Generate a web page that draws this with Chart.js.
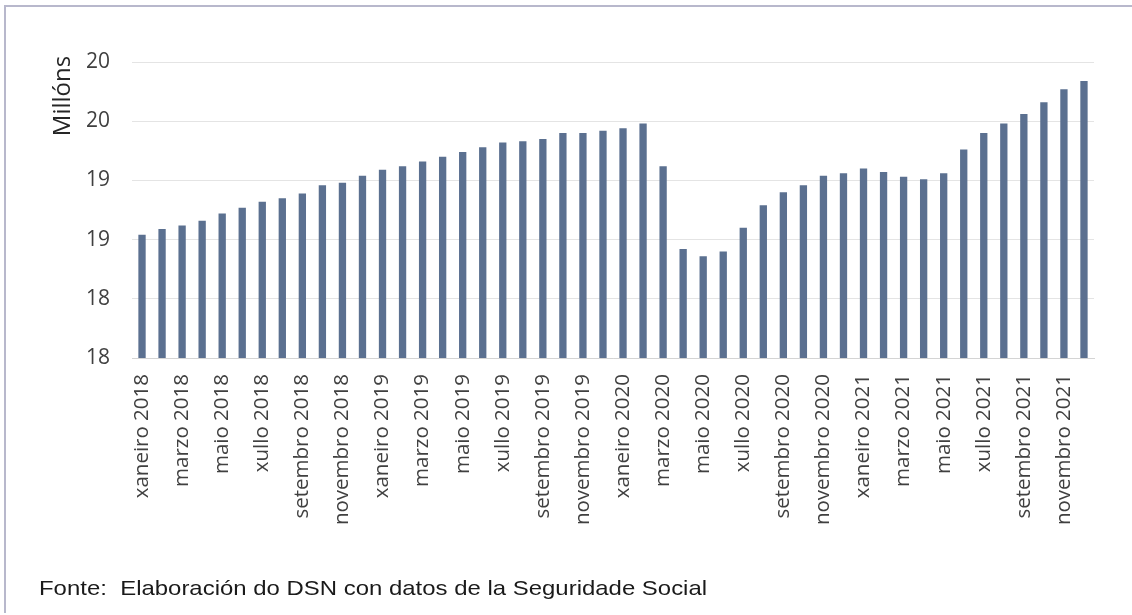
<!DOCTYPE html>
<html>
<head>
<meta charset="utf-8">
<script src="https://cdn.jsdelivr.net/npm/chart.js@4/dist/chart.umd.min.js"></script>
<style>
  body { margin: 0; background: #fff; }
  #wrap { position: relative; width: 1132px; height: 615px; overflow: hidden; }
  #frame {
    position: absolute; left: 4px; top: 5px; right: 0; bottom: 2px;
    border-top: 2px solid #b8b8cc; border-left: 2px solid #b8b8cc;
  }
  #nota {
    position: absolute; left: 39px; top: 576px;
    font-family: "Liberation Sans", Arial, sans-serif; font-size: 21px;
    color: #1a1a1a; white-space: nowrap;
    transform: scaleX(1.14); transform-origin: left top;
  }
</style>
</head>
<body>
<div id="wrap">
  <canvas id="grafico" width="1132" height="615"></canvas>
  <div id="frame"></div>
  <div id="nota">Fonte:&nbsp; Elaboración do DSN con datos de la Seguridade Social</div>
</div>
<script>
// meses (xaneiro 2018 - decembro 2021)
const meses = ["xaneiro", "febreiro", "marzo", "abril", "maio", "xuño",
  "xullo", "agosto", "setembro", "outubro", "novembro", "decembro"];
const anos = [2018, 2019, 2020, 2021];
const categorias = [];
anos.forEach((a) => meses.forEach((m) => categorias.push(m + " " + a)));

// afiliados, millóns
const afiliados = [
  18.54, 18.59, 18.62, 18.66, 18.72, 18.77, 18.82, 18.85, 18.89, 18.96, 18.98, 19.04,
  19.09, 19.12, 19.16, 19.20, 19.24, 19.28, 19.32, 19.33, 19.35, 19.40, 19.40, 19.42,
  19.44, 19.48, 19.12, 18.42, 18.36, 18.40, 18.60, 18.79, 18.90, 18.96, 19.04, 19.06,
  19.10, 19.07, 19.03, 19.01, 19.06, 19.26, 19.40, 19.48, 19.56, 19.66, 19.77, 19.84,
];

// eixo Y: valores e etiquetas (redondeadas sen decimais, como no orixinal)
const yTicks = [17.5, 18.0, 18.5, 19.0, 19.5, 20.0];
const yEtiquetas = ["18", "18", "19", "19", "20", "20"];

// titulo do eixo Y, pegado arriba como no orixinal
const tituloY = {
  id: "tituloY",
  afterDraw(chart) {
    const ctx = chart.ctx;
    ctx.save();
    ctx.translate(63, 96);
    ctx.rotate(-Math.PI / 2);
    ctx.font = '24px "Open Sans"';
    ctx.fillStyle = "#262626";
    ctx.textAlign = "center";
    ctx.textBaseline = "middle";
    ctx.fillText("Millóns", 0, 0);
    ctx.restore();
  },
};

new Chart(document.getElementById("grafico"), {
  type: "bar",
  data: {
    labels: categorias,
    datasets: [{
      data: afiliados,
      backgroundColor: "#5b7090",
      borderWidth: 0,
      categoryPercentage: 1,
      barPercentage: 0.365,
    }],
  },
  options: {
    responsive: false,
    animation: false,
    devicePixelRatio: 1,
    layout: { padding: { top: 62, right: 38, bottom: 0, left: 0 } },
    plugins: { legend: { display: false }, tooltip: { enabled: false } },
    scales: {
      x: {
        afterFit: (s) => { s.height = 257; },
        grid: { display: false, drawTicks: false },
        border: { color: "#d4d4d4", width: 1 },
        ticks: {
          autoSkip: false,
          minRotation: 90,
          maxRotation: 90,
          padding: 16,
          color: "#404040",
          font: { family: "Open Sans", size: 20.5 },
          callback: (v, i) => (i % 2 === 0 ? categorias[i] : ""),
        },
      },
      y: {
        min: yTicks[0],
        max: yTicks[yTicks.length - 1],
        afterFit: (s) => { s.width = 132; },
        afterBuildTicks: (s) => { s.ticks = yTicks.map((v) => ({ value: v })); },
        grid: { color: "#e4e4e4", drawTicks: false },
        border: { display: false },
        ticks: {
          padding: 22,
          color: "#404040",
          font: { family: "Open Sans", size: 21 },
          callback: (v, i) => yEtiquetas[i],
        },
      },
    },
  },
  plugins: [tituloY],
});
</script>
</body>
</html>
